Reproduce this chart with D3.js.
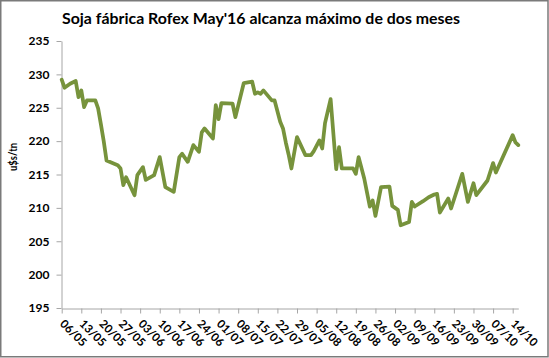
<!DOCTYPE html>
<html><head><meta charset="utf-8">
<script src="https://cdn.jsdelivr.net/npm/d3@7"></script>
<style>body{margin:0;background:#fff}</style>
</head><body>
<script>
const title = "Soja fábrica Rofex May'16 alcanza máximo de dos meses";
const yLabel = "u$s/tn";
const dayOffsets = [0,1,3,5,6,7,8,9,12,13,14,15,16,20,21,22,23,26,27,29,30,33,35,37,40,42,43,45,47,49,50,51,54,55,56,57,61,62,65,68,69,70,71,72,75,76,78,79,80,81,82,84,87,89,90,92,93,94,96,98,99,100,104,105,106,108,109,110,111,112,114,117,118,120,121,124,125,126,129,131,133,134,135,138,139,143,145,147,148,152,154,155,161,162,163];
const prices = [229.2,228.0,228.6,229.0,226.6,227.6,225.1,226.1,226.1,224.9,222.5,220.0,217.1,216.4,215.9,213.4,214.6,211.9,214.9,216.1,214.2,214.9,217.6,213.1,212.4,217.6,218.1,216.9,219.4,218.4,221.3,221.9,220.4,225.4,223.3,225.7,225.6,223.6,228.7,228.9,227.1,227.3,227.1,227.6,226.1,226.1,222.9,221.9,219.8,218.0,215.9,220.6,217.9,217.9,218.5,220.1,218.9,222.7,226.3,215.8,219.1,215.9,215.9,215.1,217.6,214.4,212.3,210.2,211.1,208.8,213.1,213.2,210.3,209.7,207.4,207.9,210.9,210.2,211.0,211.6,212.0,212.1,209.3,211.4,209.9,215.1,210.9,213.7,211.9,214.1,216.7,215.3,220.9,219.8,219.4];
const xTickLabels = ["06/05","13/05","20/05","27/05","03/06","10/06","17/06","24/06","01/07","08/07","15/07","22/07","29/07","05/08","12/08","19/08","26/08","02/09","09/09","16/09","23/09","30/09","07/10","14/10"];
const yTicks = [195,200,205,210,215,220,225,230,235];

const W = 549, H = 358;
const FONT = "Lato, 'Open Sans', sans-serif";
const svg = d3.select("body").append("svg").attr("width", W).attr("height", H);

svg.append("rect").attr("x", 0.75).attr("y", 0.75).attr("width", W - 1.75).attr("height", H - 2)
  .attr("fill", "#fff").attr("stroke", "#7a7a7a").attr("stroke-width", 1.5);

svg.append("text").attr("x", 261).attr("y", 24).attr("text-anchor", "middle")
  .attr("font-family", FONT).attr("font-weight", "bold").attr("font-size", 16).attr("fill", "#000")
  .attr("textLength", 398).attr("lengthAdjust", "spacingAndGlyphs")
  .text(title);

const x = d3.scaleLinear().domain([0, 163]).range([61.7, 518.3]);
const y = d3.scaleLinear().domain([195, 235]).range([308, 41]);

const gy = svg.append("g").attr("transform", "translate(61.5,0)")
  .call(d3.axisLeft(y).tickValues(yTicks).tickSize(5).tickPadding(7).tickSizeOuter(0));
gy.select(".domain").attr("stroke", "#a6a6a6");
gy.selectAll(".tick line").attr("stroke", "#a6a6a6");
gy.selectAll("text").attr("font-family", FONT).attr("font-weight", "bold").attr("font-size", 12).attr("fill", "#000");

const gx = svg.append("g").attr("transform", "translate(0,308.5)")
  .call(d3.axisBottom(x).tickValues(d3.range(0, 162, 7)).tickFormat((d, i) => xTickLabels[i]).tickSize(5).tickSizeOuter(0));
gx.select(".domain").attr("stroke", "#a6a6a6");
gx.selectAll(".tick line").attr("stroke", "#a6a6a6");
gx.selectAll("text").attr("font-family", FONT).attr("font-weight", "bold").attr("font-size", 11.5).attr("fill", "#000")
  .attr("text-anchor", "start").attr("x", 0).attr("y", 0).attr("dy", 0)
  .attr("transform", "translate(-3,16) rotate(45)");

svg.append("text").attr("transform", "translate(17,157) rotate(-90)").attr("text-anchor", "middle")
  .attr("font-family", FONT).attr("font-weight", "bold").attr("font-size", 11).attr("fill", "#000")
  .attr("textLength", 28).attr("lengthAdjust", "spacingAndGlyphs")
  .text(yLabel);

const pts = dayOffsets.map((d, i) => [d, prices[i]]);
svg.append("path").datum(pts)
  .attr("fill", "none").attr("stroke", "#77933c").attr("stroke-width", 3.75)
  .attr("stroke-linejoin", "round").attr("stroke-linecap", "round")
  .attr("d", d3.line().x(d => x(d[0])).y(d => y(d[1])));
</script>
</body></html>
